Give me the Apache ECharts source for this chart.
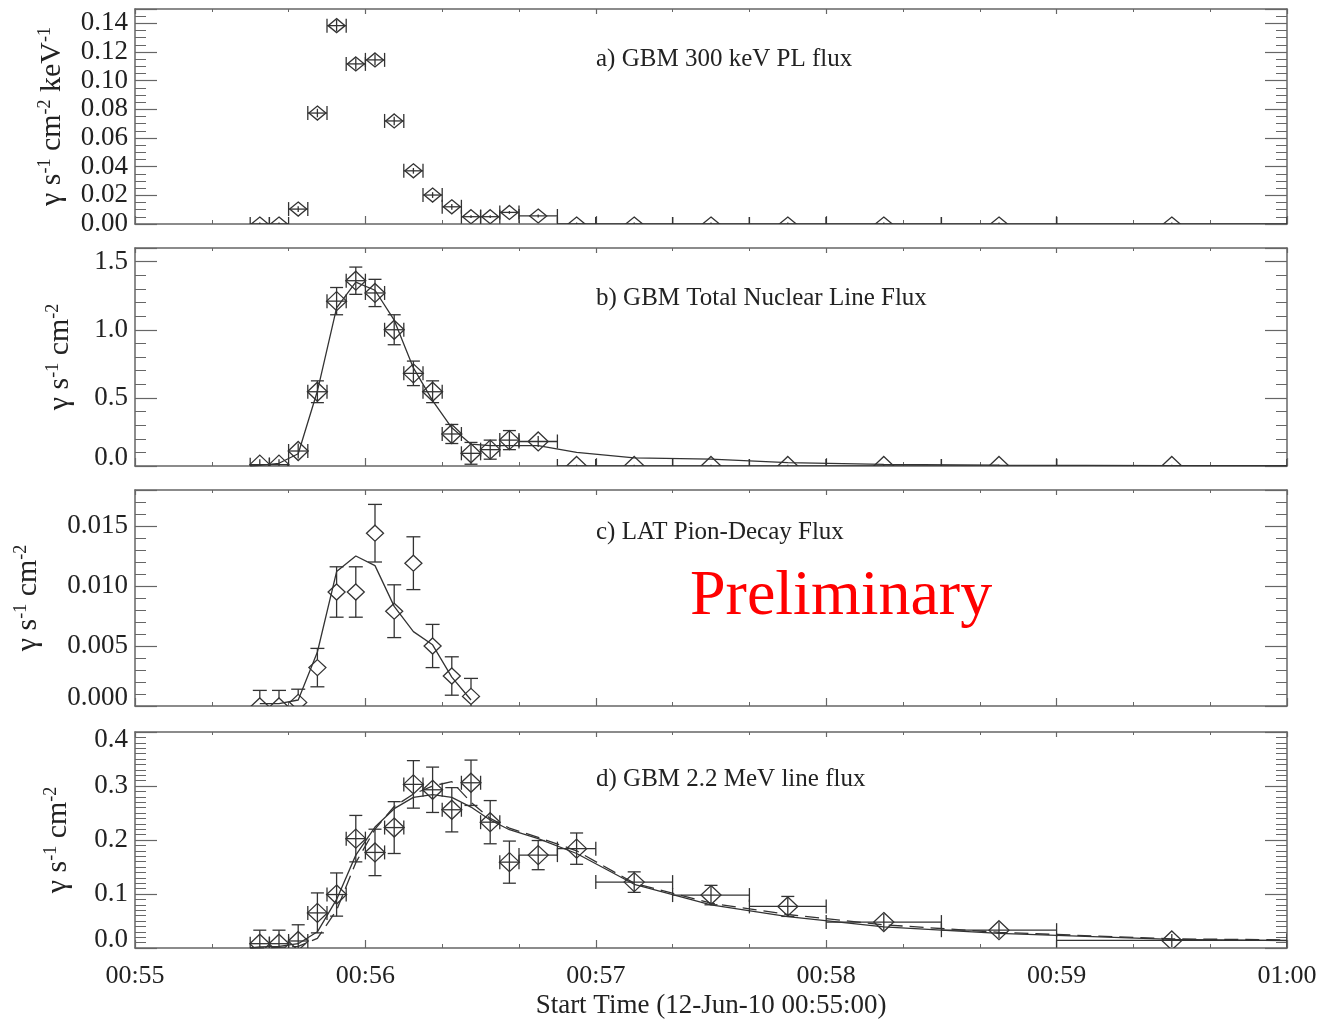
<!DOCTYPE html>
<html>
<head>
<meta charset="utf-8">
<script src="https://cdn.jsdelivr.net/npm/echarts@6/dist/echarts.min.js"></script>
<style>
  html, body { margin: 0; padding: 0; background: #fff; }
  #chart { width: 1323px; height: 1021px; }
</style>
</head>
<body>
<div id="chart"></div>
<script>
// Accumulation bins, seconds after 12-Jun-10 00:55:00
const binLo = [30, 35, 40, 45, 50, 55, 60, 65, 70, 75, 80, 85, 90, 95, 100, 110, 120, 140, 160, 180, 210, 240];
const binHi = [35, 40, 45, 50, 55, 60, 65, 70, 75, 80, 85, 90, 95, 100, 110, 120, 140, 160, 180, 210, 240, 300];

// a) GBM 300 keV power-law flux
const plFlux = [0.000, 0.000, 0.0104, 0.0774, 0.1384, 0.1117, 0.1145, 0.0719, 0.0371, 0.0202, 0.0120, 0.0051,
                0.0051, 0.0081, 0.0056, 0.000, 0.000, 0.000, 0.000, 0.000, 0.000, 0.000];
const plErr  = [0.001, 0.001, 0.002, 0.003, 0.004, 0.004, 0.004, 0.003, 0.002, 0.002, 0.002, 0.001,
                0.001, 0.001, 0.001, 0.001, 0.001, 0.001, 0.001, 0.001, 0.001, 0.001];

// b) GBM total nuclear line flux
const nucFlux = [0.01, 0.01, 0.11, 0.545, 1.21, 1.36, 1.27, 1.00, 0.68, 0.545, 0.235, 0.093,
                 0.12, 0.19, 0.18, 0.0, 0.0, 0.0, 0.0, 0.0, 0.0, 0.0];
const nucErr  = [0.04, 0.04, 0.055, 0.08, 0.10, 0.10, 0.10, 0.11, 0.09, 0.08, 0.07, 0.08,
                 0.07, 0.07, 0.04, 0.01, 0.01, 0.01, 0.01, 0.01, 0.01, 0.01];

// Fitted model curves are sampled at these times
const modelTime = [30, 32.5, 37.5, 42.5, 47.5, 52.5, 57.5, 62.5, 67.5, 72.5, 77.5, 82.5, 87.5,
                   92.5, 97.5, 105, 115, 130, 150, 170, 195, 225, 270, 300];
const nucModel = [0.0, 0.005, 0.02, 0.09, 0.55, 1.16, 1.35, 1.29, 1.07, 0.72, 0.48, 0.28, 0.16,
                  0.15, 0.15, 0.15, 0.10, 0.06, 0.05, 0.025, 0.012, 0.006, 0.003, 0.002];

// c) LAT pion-decay flux (first twelve bins)
const pionFlux = [0.0000, 0.0000, 0.0003, 0.0032, 0.0095, 0.0095, 0.0144, 0.0079, 0.0119, 0.0050, 0.0025, 0.0008];
const pionErr  = [0.0013, 0.0013, 0.0011, 0.0016, 0.0021, 0.0021, 0.0024, 0.0022, 0.0022, 0.0018, 0.0016, 0.0015];
const pionModel = [0.0002, 0.0002, 0.0005, 0.0045, 0.0112, 0.0125, 0.0117, 0.0083, 0.0062, 0.0051, 0.0024, 0.0005];

// d) GBM 2.2 MeV line flux
const lineFlux = [0.008, 0.008, 0.013, 0.065, 0.099, 0.2025, 0.177, 0.223, 0.303, 0.293, 0.256, 0.306,
                  0.233, 0.159, 0.172, 0.184, 0.122, 0.098, 0.077, 0.048, 0.033, 0.014];
const lineErr  = [0.025, 0.025, 0.030, 0.037, 0.040, 0.043, 0.043, 0.048, 0.044, 0.042, 0.041, 0.042,
                  0.040, 0.039, 0.027, 0.029, 0.019, 0.018, 0.0185, 0.015, 0.0145, 0.012];
const lineModelSolid  = [0.0, 0.002, 0.003, 0.008, 0.030, 0.090, 0.172, 0.224, 0.258, 0.279, 0.284, 0.279, 0.261,
                         0.237, 0.219, 0.2025, 0.175, 0.118, 0.080, 0.058, 0.039, 0.027, 0.016, 0.0137];
const lineModelDashed = [0.0, 0.0, 0.001, 0.003, 0.018, 0.070, 0.158, 0.220, 0.262, 0.285, 0.300, 0.308, 0.270,
                         0.240, 0.222, 0.205, 0.180, 0.120, 0.083, 0.062, 0.043, 0.029, 0.017, 0.015];

// Time axis tick labels, one per minute
const timeTicks = ['00:55', '00:56', '00:57', '00:58', '00:59', '01:00'];

const FONT = "'Liberation Serif', 'Times New Roman', serif";
const INK = '#333';
const FRAME = '#666';

// Panel layout and axis ranges
const panels = [
  { top: 9,   height: 215, min: 0, max: 0.15,  step: 0.02,  minor: 4,  digits: 2, minAlign: 'middle',
    name: 'γ s{sup|-1} cm{sup|-2} keV{sup|-1}', gap: 67, title: 'a) GBM 300 keV PL flux', titleY: 58 },
  { top: 248, height: 218, min: 0, max: 1.6,   step: 0.5,   minor: 5,  digits: 1, minAlign: 'bottom',
    name: 'γ s{sup|-1} cm{sup|-2}', gap: 59, title: 'b) GBM Total Nuclear Line Flux', titleY: 297 },
  { top: 490, height: 216, min: 0, max: 0.018, step: 0.005, minor: 5,  digits: 3, minAlign: 'bottom',
    name: 'γ s{sup|-1} cm{sup|-2}', gap: 91, title: 'c) LAT Pion-Decay Flux', titleY: 531 },
  { top: 732, height: 216, min: 0, max: 0.4,   step: 0.1,   minor: 10, digits: 1, minAlign: 'bottom',
    name: 'γ s{sup|-1} cm{sup|-2}', gap: 61, title: 'd) GBM 2.2 MeV line flux', titleY: 778 }
];

const grids = [], xAxes = [], yAxes = [], series = [], graphics = [];

panels.forEach((p, i) => {
  grids.push({ left: 135, right: 36, top: p.top, height: p.height, containLabel: false });

  const frameLine = { show: true, onZero: false, lineStyle: { color: FRAME, width: 1.5 } };
  const last = i === panels.length - 1;

  // bottom and top time axes
  xAxes.push({
    gridIndex: i, type: 'value', position: 'bottom', min: 0, max: 300, interval: 60,
    axisLine: frameLine,
    axisTick: { show: true, inside: true, length: 8, lineStyle: { color: FRAME, width: 1.2 } },
    minorTick: { show: true, splitNumber: 3, length: 4, lineStyle: { color: FRAME, width: 1 } },
    splitLine: { show: false },
    axisLabel: {
      show: last, margin: 15, fontFamily: FONT, fontSize: 26, color: '#222',
      formatter: v => timeTicks[Math.round(v / 60)]
    },
    name: last ? 'Start Time (12-Jun-10 00:55:00)' : '',
    nameLocation: 'middle', nameGap: 44,
    nameTextStyle: { fontFamily: FONT, fontSize: 27, color: '#222' }
  });
  xAxes.push({
    gridIndex: i, type: 'value', position: 'top', min: 0, max: 300, interval: 60,
    axisLine: frameLine,
    axisTick: { show: true, inside: true, length: 5, lineStyle: { color: FRAME, width: 1.2 } },
    minorTick: { show: true, splitNumber: 3, length: 3, lineStyle: { color: FRAME, width: 1 } },
    splitLine: { show: false }, axisLabel: { show: false }
  });

  // left (labelled) and right flux axes
  yAxes.push({
    gridIndex: i, type: 'value', position: 'left', min: p.min, max: p.max, interval: p.step,
    axisLine: frameLine,
    axisTick: { show: true, inside: true, length: 22, lineStyle: { color: FRAME, width: 1.2 } },
    minorTick: { show: true, splitNumber: p.minor, length: 11, lineStyle: { color: FRAME, width: 1 } },
    splitLine: { show: false },
    axisLabel: {
      margin: 7, fontFamily: FONT, fontSize: 27, color: '#222', lineHeight: 16,
      showMinLabel: true, showMaxLabel: i === 3,
      verticalAlignMinLabel: p.minAlign, verticalAlignMaxLabel: 'top',
      formatter: v => v.toFixed(p.digits)
    },
    name: p.name, nameLocation: 'middle', nameRotate: 90, nameGap: p.gap,
    nameTextStyle: {
      fontFamily: FONT, fontSize: 30, color: '#222', lineHeight: 32,
      rich: { sup: { fontFamily: FONT, fontSize: 18, color: '#222', verticalAlign: 'top', lineHeight: 32, padding: [0, 0, 10, 0] } }
    }
  });
  yAxes.push({
    gridIndex: i, type: 'value', position: 'right', min: p.min, max: p.max, interval: p.step,
    axisLine: frameLine,
    axisTick: { show: true, inside: true, length: 22, lineStyle: { color: FRAME, width: 1.2 } },
    minorTick: { show: true, splitNumber: p.minor, length: 11, lineStyle: { color: FRAME, width: 1 } },
    splitLine: { show: false }, axisLabel: { show: false }
  });

  graphics.push({
    type: 'text', left: 596, top: p.titleY - 11, silent: true,
    style: { text: p.title, fontFamily: FONT, fontSize: 25, fill: '#222' }
  });
});

// Diamond markers with error bars; drawn clipped to the plot frame
function errorMarks(opt) {
  return function (params, api) {
    const lo = api.value(0), hi = api.value(1), t = api.value(2), v = api.value(3), e = api.value(4);
    const c = api.coord([t, v]);
    const style = { stroke: INK, lineWidth: 1.3, fill: 'none' };
    const kids = [];
    const seg = (x1, y1, x2, y2) => kids.push({ type: 'line', shape: { x1, y1, x2, y2 }, style });
    const yTop = api.coord([t, v + e])[1];
    const yBot = api.coord([t, v - e])[1];
    const dx = opt.dx, dy = opt.dy;

    if (opt.hbar) {
      const xl = api.coord([lo, v])[0], xr = api.coord([hi, v])[0];
      seg(xl, c[1], xr, c[1]);
      seg(xl, c[1] - 7, xl, c[1] + 7);
      seg(xr, c[1] - 7, xr, c[1] + 7);
    }
    if (opt.through) {
      seg(c[0], yTop, c[0], yBot);
    } else {
      if (yTop < c[1] - dy) seg(c[0], yTop, c[0], c[1] - dy);
      if (yBot > c[1] + dy) seg(c[0], c[1] + dy, c[0], yBot);
    }
    if (yBot - yTop > 2 * dy) {
      seg(c[0] - opt.cap, yTop, c[0] + opt.cap, yTop);
      seg(c[0] - opt.cap, yBot, c[0] + opt.cap, yBot);
    }
    kids.push({
      type: 'polygon',
      shape: { points: [[c[0], c[1] - dy], [c[0] + dx, c[1]], [c[0], c[1] + dy], [c[0] - dx, c[1]]] },
      style
    });
    return { type: 'group', children: kids };
  };
}

function binRows(values, errors) {
  return values.map((v, k) => [binLo[k], binHi[k], (binLo[k] + binHi[k]) / 2, v, errors[k]]);
}

function marks(idx, values, errors, opt) {
  return {
    type: 'custom', xAxisIndex: 2 * idx, yAxisIndex: 2 * idx, clip: true, silent: true,
    animation: false, encode: { x: 2, y: 3 },
    renderItem: errorMarks(opt), data: binRows(values, errors)
  };
}

function curve(idx, times, values, dashed) {
  return {
    type: 'line', xAxisIndex: 2 * idx, yAxisIndex: 2 * idx, clip: true, silent: true,
    animation: false, showSymbol: false, symbol: 'none',
    lineStyle: { color: INK, width: 1.3, type: dashed ? [14, 7] : 'solid' },
    data: times.map((t, k) => [t, values[k]])
  };
}

const pionTimes = pionFlux.map((_, k) => (binLo[k] + binHi[k]) / 2);

series.push(marks(0, plFlux, plErr, { dx: 8.5, dy: 7, cap: 5, hbar: true, through: true }));
series.push(curve(1, modelTime, nucModel, false));
series.push(marks(1, nucFlux, nucErr, { dx: 10, dy: 9.5, cap: 6.5, hbar: true, through: true }));
series.push(curve(2, pionTimes, pionModel, false));
series.push(marks(2, pionFlux, pionErr, { dx: 8.5, dy: 8, cap: 7, hbar: false, through: false }));
series.push(curve(3, modelTime, lineModelSolid, false));
series.push(curve(3, modelTime, lineModelDashed, true));
series.push(marks(3, lineFlux, lineErr, { dx: 10, dy: 9.5, cap: 6.5, hbar: true, through: true }));

graphics.push({
  type: 'text', left: 690, top: 565, silent: true,
  style: { text: 'Preliminary', fontFamily: FONT, fontSize: 64, fill: '#ff0000' }
});

const chart = echarts.init(document.getElementById('chart'), null, { renderer: 'canvas' });
chart.setOption({
  backgroundColor: '#fff',
  animation: false,
  grid: grids,
  xAxis: xAxes,
  yAxis: yAxes,
  series: series,
  graphic: graphics
});
</script>
</body>
</html>
